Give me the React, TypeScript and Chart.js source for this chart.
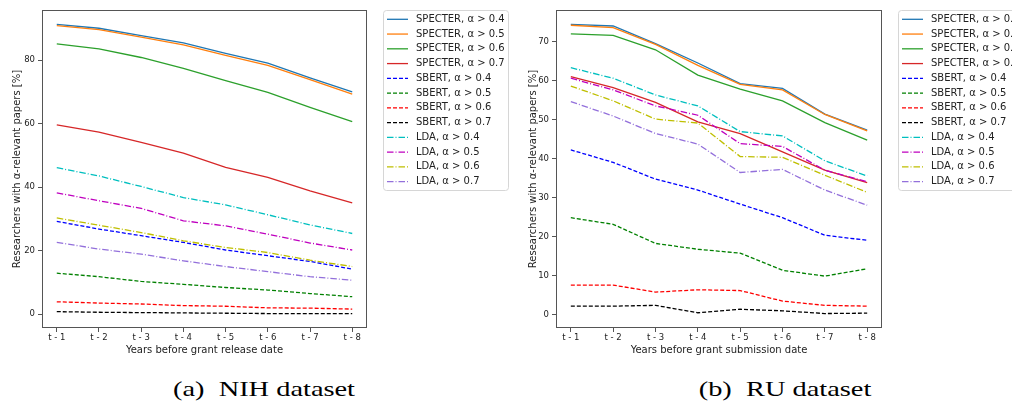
import React, { useEffect, useRef } from "react";
import { Chart, registerables } from "chart.js";

Chart.register(...registerables);

// ---------- data ----------
const categories = ["t - 1", "t - 2", "t - 3", "t - 4", "t - 5", "t - 6", "t - 7", "t - 8"];

const seriesLabels = [
  "SPECTER, α > 0.4",
  "SPECTER, α > 0.5",
  "SPECTER, α > 0.6",
  "SPECTER, α > 0.7",
  "SBERT, α > 0.4",
  "SBERT, α > 0.5",
  "SBERT, α > 0.6",
  "SBERT, α > 0.7",
  "LDA, α > 0.4",
  "LDA, α > 0.5",
  "LDA, α > 0.6",
  "LDA, α > 0.7",
];

// NIH dataset
const nihSpecter04 = [91.2, 90.0, 87.7, 85.4, 82.1, 79.0, 74.4, 70.0];
const nihSpecter05 = [90.8, 89.6, 87.2, 84.8, 81.5, 78.3, 73.8, 69.3];
const nihSpecter06 = [85.1, 83.5, 80.8, 77.4, 73.5, 69.8, 65.1, 60.6];
const nihSpecter07 = [59.6, 57.3, 54.1, 50.7, 46.2, 43.1, 38.8, 35.0];
const nihSbert04 = [29.2, 26.8, 24.7, 22.6, 20.2, 18.4, 16.6, 14.2];
const nihSbert05 = [12.9, 11.8, 10.3, 9.4, 8.4, 7.6, 6.5, 5.5];
const nihSbert06 = [3.9, 3.5, 3.2, 2.7, 2.5, 2.0, 1.9, 1.6];
const nihSbert07 = [0.8, 0.6, 0.5, 0.4, 0.3, 0.2, 0.2, 0.2];
const nihLda04 = [46.1, 43.5, 40.2, 36.7, 34.4, 31.3, 28.1, 25.4];
const nihLda05 = [38.2, 35.7, 33.3, 29.4, 27.8, 25.2, 22.4, 20.2];
const nihLda06 = [30.3, 28.0, 25.7, 23.1, 21.0, 19.4, 17.0, 15.0];
const nihLda07 = [22.6, 20.5, 18.9, 16.8, 15.0, 13.4, 11.8, 10.7];

// RU dataset
const ruSpecter04 = [74.5, 74.1, 69.6, 64.6, 59.3, 58.1, 51.5, 47.4];
const ruSpecter05 = [74.3, 73.7, 69.4, 64.0, 59.1, 57.7, 51.4, 47.2];
const ruSpecter06 = [72.1, 71.7, 68.0, 61.5, 57.9, 54.9, 49.3, 44.8];
const ruSpecter07 = [61.1, 58.3, 54.5, 49.5, 46.5, 41.8, 37.1, 33.9];
const ruSbert04 = [42.3, 39.1, 34.8, 32.0, 28.4, 24.9, 20.4, 19.1];
const ruSbert05 = [24.9, 23.2, 18.3, 16.8, 15.8, 11.4, 9.9, 11.8];
const ruSbert06 = [7.6, 7.6, 5.8, 6.4, 6.2, 3.5, 2.4, 2.2];
const ruSbert07 = [2.2, 2.2, 2.4, 0.5, 1.4, 1.0, 0.3, 0.4];
const ruLda04 = [63.4, 60.7, 56.4, 53.6, 47.0, 45.9, 39.5, 35.6];
const ruLda05 = [60.7, 57.7, 53.6, 51.2, 43.9, 43.2, 37.1, 34.1];
const ruLda06 = [58.7, 54.9, 50.2, 49.2, 40.6, 40.4, 35.8, 31.4];
const ruLda07 = [54.7, 51.0, 46.5, 43.8, 36.5, 37.3, 32.0, 28.1];

const nihYTicks = [0, 20, 40, 60, 80];
const ruYTicks = [0, 10, 20, 30, 40, 50, 60, 70];

const yTitle = "Researchers with α-relevant papers [%]";
const nihXTitle = "Years before grant release date";
const ruXTitle = "Years before grant submission date";
const nihCaption = "(a)  NIH dataset";
const ruCaption = "(b)  RU dataset";

// ---------- styles ----------
const seriesColors = [
  "#1f77b4", "#ff7f0e", "#2ca02c", "#d62728",
  "#0000ff", "#008000", "#ff0000", "#000000",
  "#00bfbf", "#bf00bf", "#bfbf00", "#9370db",
];
const DASHED = [4, 2];
const DASHDOT = [6.5, 2, 1, 2];
const seriesDash = [
  [], [], [], [],
  DASHED, DASHED, DASHED, DASHED,
  DASHDOT, DASHDOT, DASHDOT, DASHDOT,
];

const FONT = "'DejaVu Sans', sans-serif";
const AXIS_COLOR = "#555";
const TEXT_COLOR = "#222";

const frameAndLegend = {
  id: "frameAndLegend",
  afterDraw(chart: any) {
    const { ctx, chartArea } = chart;
    ctx.save();
    // axes box
    ctx.strokeStyle = AXIS_COLOR;
    ctx.lineWidth = 1;
    ctx.setLineDash([]);
    ctx.strokeRect(
      Math.round(chartArea.left) + 0.5,
      Math.round(chartArea.top) + 0.5,
      Math.round(chartArea.right - chartArea.left) - 1,
      Math.round(chartArea.bottom - chartArea.top) - 1
    );
    // legend box
    const x0 = Math.round(chartArea.right) + 16;
    const y0 = 10;
    const w = 125;
    const h = 180;
    ctx.beginPath();
    if ((ctx as any).roundRect) (ctx as any).roundRect(x0 + 0.5, y0 + 0.5, w, h, 3);
    else ctx.rect(x0 + 0.5, y0 + 0.5, w, h);
    ctx.fillStyle = "rgba(255,255,255,0.8)";
    ctx.fill();
    ctx.strokeStyle = "#d6d6d6";
    ctx.stroke();
    chart.data.datasets.forEach((ds: any, i: number) => {
      const y = 19.3 + i * 14.76;
      ctx.beginPath();
      ctx.setLineDash(ds.borderDash || []);
      ctx.strokeStyle = ds.borderColor;
      ctx.lineWidth = ds.borderWidth;
      ctx.moveTo(x0 + 4, y);
      ctx.lineTo(x0 + 25, y);
      ctx.stroke();
      ctx.setLineDash([]);
      ctx.fillStyle = TEXT_COLOR;
      ctx.font = `10px ${FONT}`;
      ctx.textBaseline = "middle";
      ctx.textAlign = "left";
      ctx.fillText(ds.label, x0 + 33, y);
    });
    ctx.restore();
  },
};

type PanelProps = {
  series: number[][];
  yTicks: number[];
  xTitle: string;
  left: number;
  width: number;
  yAxisWidth: number;
  plotRight: number;
  yTitlePad: number;
};

function Panel({ series, yTicks, xTitle, left, width, yAxisWidth, plotRight, yTitlePad }: PanelProps) {
  const ref = useRef<HTMLCanvasElement | null>(null);
  useEffect(() => {
    if (!ref.current) return;
    const all = series.flat();
    const dMin = Math.min(...all);
    const dMax = Math.max(...all);
    const margin = (dMax - dMin) * 0.05;
    const n = categories.length;
    const chart = new Chart(ref.current, {
      type: "line",
      data: {
        datasets: series.map((vals, i) => ({
          label: seriesLabels[i],
          data: vals.map((v, j) => ({ x: j, y: v })),
          borderColor: seriesColors[i],
          backgroundColor: seriesColors[i],
          borderDash: seriesDash[i],
          borderWidth: 1.3,
          pointRadius: 0,
          tension: 0,
          fill: false,
          order: series.length - i,
        })),
      },
      options: {
        animation: false,
        responsive: false,
        devicePixelRatio: 1,
        layout: { padding: { top: 10, right: width - plotRight, left: 0, bottom: 0 } },
        plugins: { legend: { display: false }, tooltip: { enabled: false } },
        scales: {
          x: {
            type: "linear",
            min: -0.05 * (n - 1),
            max: (n - 1) * 1.05,
            afterBuildTicks: (scale: any) => {
              scale.ticks = categories.map((_, j) => ({ value: j }));
            },
            afterFit: (scale: any) => {
              scale.height = 37;
            },
            ticks: {
              callback: (v: any) => categories[Number(v)] ?? "",
              font: { family: FONT, size: 8.5 },
              color: TEXT_COLOR,
              padding: 1,
              maxRotation: 0,
              autoSkip: false,
            },
            grid: {
              display: true,
              drawOnChartArea: false,
              drawTicks: true,
              tickLength: 4,
              color: AXIS_COLOR,
            },
            border: { display: false },
            title: {
              display: true,
              text: xTitle,
              font: { family: FONT, size: 10 },
              color: TEXT_COLOR,
              padding: { top: 0, bottom: 9 },
            },
          },
          y: {
            type: "linear",
            min: dMin - margin,
            max: dMax + margin,
            afterBuildTicks: (scale: any) => {
              scale.ticks = yTicks.map((v) => ({ value: v }));
            },
            afterFit: (scale: any) => {
              scale.width = yAxisWidth;
            },
            ticks: {
              font: { family: FONT, size: 8.5 },
              color: TEXT_COLOR,
              padding: 3,
            },
            grid: {
              display: true,
              drawOnChartArea: false,
              drawTicks: true,
              tickLength: 4,
              color: AXIS_COLOR,
            },
            border: { display: false },
            title: {
              display: true,
              text: yTitle,
              font: { family: FONT, size: 10 },
              color: TEXT_COLOR,
              padding: { top: yTitlePad, bottom: 0 },
            },
          },
        },
      },
      plugins: [frameAndLegend],
    } as any);
    return () => chart.destroy();
  }, []);
  return (
    <canvas
      ref={ref}
      width={width}
      height={365}
      style={{ position: "absolute", left, top: 0, width, height: 365 }}
    />
  );
}

const captionStyle = (center: number): React.CSSProperties => ({
  position: "absolute",
  left: center,
  top: 379,
  fontFamily: "'Liberation Serif', 'Times New Roman', serif",
  fontSize: 21.5,
  lineHeight: "21.5px",
  whiteSpace: "pre",
  color: "#000",
  transform: "translateX(-50%) scaleX(1.32)",
});

export default function App() {
  const nihSeries = [
    nihSpecter04, nihSpecter05, nihSpecter06, nihSpecter07,
    nihSbert04, nihSbert05, nihSbert06, nihSbert07,
    nihLda04, nihLda05, nihLda06, nihLda07,
  ];
  const ruSeries = [
    ruSpecter04, ruSpecter05, ruSpecter06, ruSpecter07,
    ruSbert04, ruSbert05, ruSbert06, ruSbert07,
    ruLda04, ruLda05, ruLda06, ruLda07,
  ];
  return (
    <div
      style={{
        position: "fixed",
        left: 0,
        top: 0,
        width: 1012,
        height: 402,
        background: "#fff",
        overflow: "hidden",
      }}
    >
      <Panel series={nihSeries} yTicks={nihYTicks} xTitle={nihXTitle} left={0} width={515} yAxisWidth={42} plotRight={367} yTitlePad={11.5} />
      <Panel series={ruSeries} yTicks={ruYTicks} xTitle={ruXTitle} left={515} width={497} yAxisWidth={41} plotRight={367} yTitlePad={12} />
      <div style={captionStyle(264)}>{nihCaption}</div>
      <div style={captionStyle(785)}>{ruCaption}</div>
    </div>
  );
}
